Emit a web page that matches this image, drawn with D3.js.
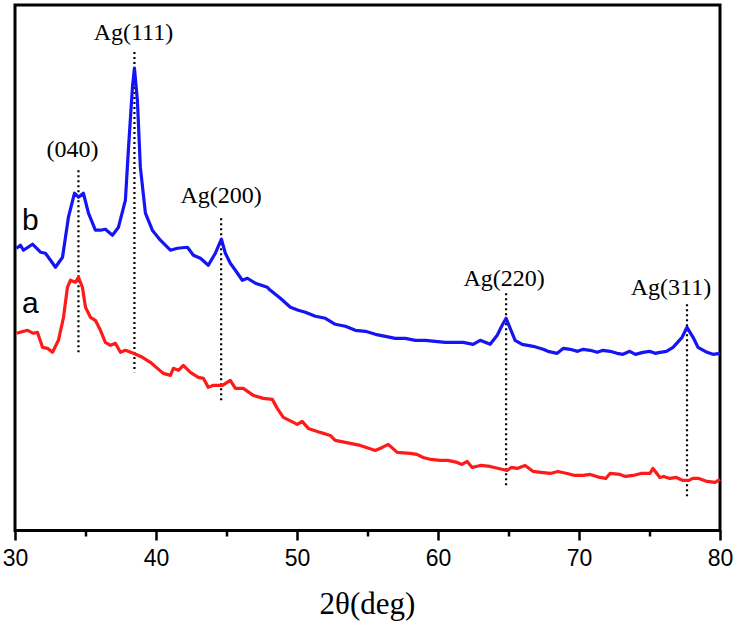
<!DOCTYPE html>
<html><head><meta charset="utf-8">
<script src="https://cdn.jsdelivr.net/npm/d3@7"></script>
<style>body{margin:0;background:#fff}svg{display:block}</style>
</head><body><svg id="c" width="735" height="621"></svg>
<script>
// 2θ (deg) and intensity (a.u.)
const seriesB_x = [30.1,30.39,30.6,31.24,31.81,32.16,32.52,32.87,33.37,33.79,34.22,34.5,34.85,35.21,35.7,36.06,36.41,36.91,37.34,37.83,38.04,38.33,38.47,38.68,38.89,39.25,39.74,40.31,41.02,41.52,42.23,42.65,43.15,43.71,44.21,44.64,44.92,45.27,45.63,46.12,46.48,47.05,47.9,48.11,48.82,49.53,50.09,50.59,51.3,52.01,52.72,53.43,54.14,54.85,55.56,56.27,56.97,57.68,58.39,59.09,59.8,60.51,60.87,61.79,62.49,62.99,63.7,64.2,64.55,64.83,65.12,65.47,65.97,66.75,67.46,67.8,68.45,68.9,69.37,69.9,70.3,70.79,71.3,71.7,72.2,72.7,73.12,73.6,74.0,74.54,75.0,75.4,75.74,76.2,76.67,77.31,77.66,78.09,78.44,79.08,79.5,80.0];
const seriesB_y = [282,285,280,286,278,277,270,263,273,313,337,333,337,317,300,300,301,295,303,330,380,443,462,430,363,317,300,290,280,282,283,275,272,265,277,291,277,267,260,250,252,247,243,240,232,223,220,218,214,212,206,204,200,199,196,194,192,192,190,190,189,188,188,188,186,190,186,195,205,212,202,190,186,184,181,179,177,182,181,179,181,180,178,180,179,177,176,179,176,178,179,177,178,179,183,193,203,193,183,178,176,177];
const seriesA_x = [30.1,30.89,31.31,31.59,31.95,32.3,32.66,33.08,33.44,33.72,33.93,34.29,34.5,34.78,35.0,35.35,35.7,36.06,36.41,36.77,37.12,37.48,37.83,38.4,39.04,39.6,40.1,40.52,41.02,41.23,41.59,41.94,42.44,43.0,43.36,43.71,44.07,44.71,45.27,45.63,46.19,46.9,47.61,48.25,48.6,49.03,50.02,50.37,50.8,51.65,52.36,52.71,53.78,54.49,55.55,56.04,56.47,57.11,58.03,58.5,58.95,59.5,60.16,60.7,61.36,61.7,62.07,62.42,63.0,63.7,64.3,64.9,65.2,65.61,66.18,66.75,67.3,67.95,68.5,69.16,69.7,70.29,70.8,71.49,71.9,72.2,72.9,73.3,73.83,74.4,75.03,75.25,75.74,76.0,76.45,76.9,77.37,77.8,78.07,78.5,79.08,79.65,80.0];
const seriesA_y = [197,200,197,198,183,182,178,190,213,243,250,248,253,243,223,213,210,200,188,185,187,178,180,177,173,168,162,157,155,162,160,165,158,153,152,143,145,145,150,142,142,135,132,131,122,113,106,109,102,98,95,90,87,85,80,83,86,78,77,76,73,71,70,70,68,66,69,63,65,64,62,60,63,62,65,59,58,57,59,57,55,55,56,53,52,57,56,54,55,57,57,62,53,54,52,53,50,50,52,52,49,48,51];
const seriesNames = ["b","a"];
const peakLabels = ["(040)","Ag(111)","Ag(200)","Ag(220)","Ag(311)"];
const peakPos = [34.5,38.47,44.62,64.83,77.66];
const peakLineTop = [360,478,312,237,226];
const peakLineBottom = [177,158,128,45,34];
const xTicksMajor = [30,40,50,60,70,80];
const xTicksMinor = [35,45,55,65,75];
const xTitle = "2θ(deg)";

const svg = d3.select("#c");
const L=15,R=720,T=5,B=530.5;
const x = d3.scaleLinear().domain([30,80]).range([L,R]);
const y = d3.scaleLinear().domain([0,525]).range([B,T]);

// minor ticks
svg.append("g").attr("transform",`translate(0,${B})`)
  .call(d3.axisBottom(x).tickValues(xTicksMinor).tickSize(6).tickFormat(""))
  .call(g=>{g.select(".domain").remove();g.selectAll("line").attr("stroke","#000").attr("stroke-width",2.5);});
// major ticks
const ax = svg.append("g").attr("transform",`translate(0,${B})`)
  .call(d3.axisBottom(x).tickValues(xTicksMajor).tickSize(10).tickPadding(8).tickFormat(d3.format("d")));
ax.select(".domain").remove();
ax.selectAll("line").attr("stroke","#000").attr("stroke-width",2.5);
ax.selectAll("text").attr("font-family","'Liberation Sans Narrow','Liberation Sans',Arial,sans-serif")
  .attr("font-size",23).attr("fill","#000").attr("dy",null).attr("y",null)
  .attr("transform","translate(0,35)");

// frame
svg.append("rect").attr("x",L).attr("y",T).attr("width",R-L).attr("height",B-T)
  .attr("fill","none").attr("stroke","#000").attr("stroke-width",3);

// dotted reference lines
peakPos.forEach((p,i)=>{
  svg.append("line").attr("x1",x(p)).attr("x2",x(p))
    .attr("y1",y(peakLineTop[i])).attr("y2",y(peakLineBottom[i]))
    .attr("stroke","#000").attr("stroke-width",2.2).attr("stroke-dasharray","2,3");
});
const labelDx=[-6,-1,0,-2,-16], labelGap=[13,12,15,7,9];
peakLabels.forEach((t,i)=>{
  svg.append("text").attr("x",x(peakPos[i])+labelDx[i]).attr("y",y(peakLineTop[i])-labelGap[i])
    .attr("text-anchor","middle").attr("font-family","'Liberation Serif','Times New Roman',serif")
    .attr("font-size",24).attr("fill","#000").text(t);
});

const line = d3.line().x(d=>x(d[0])).y(d=>y(d[1])).curve(d3.curveLinear);
const dataB = seriesB_x.map((v,i)=>[v,seriesB_y[i]]);
const dataA = seriesA_x.map((v,i)=>[v,seriesA_y[i]]);
svg.append("path").datum(dataA).attr("d",line).attr("fill","none").attr("stroke","#ff1a1a").attr("stroke-width",3.2).attr("stroke-linejoin","round");
svg.append("path").datum(dataB).attr("d",line).attr("fill","none").attr("stroke","#1414f5").attr("stroke-width",3.2).attr("stroke-linejoin","round");

// series labels
svg.append("text").attr("x",22).attr("y",y(seriesB_y[0])-18).attr("font-family","'Liberation Sans',Arial,sans-serif")
  .attr("font-size",30).attr("fill","#000").text(seriesNames[0]);
svg.append("text").attr("x",22).attr("y",y(seriesA_y[0])-20).attr("font-family","'Liberation Sans',Arial,sans-serif")
  .attr("font-size",30).attr("fill","#000").text(seriesNames[1]);

// axis title
svg.append("text").attr("x",(L+R)/2).attr("y",614).attr("text-anchor","middle")
  .attr("font-family","'Liberation Serif','Times New Roman',serif").attr("font-size",31).attr("fill","#000").text(xTitle);
</script></body></html>
